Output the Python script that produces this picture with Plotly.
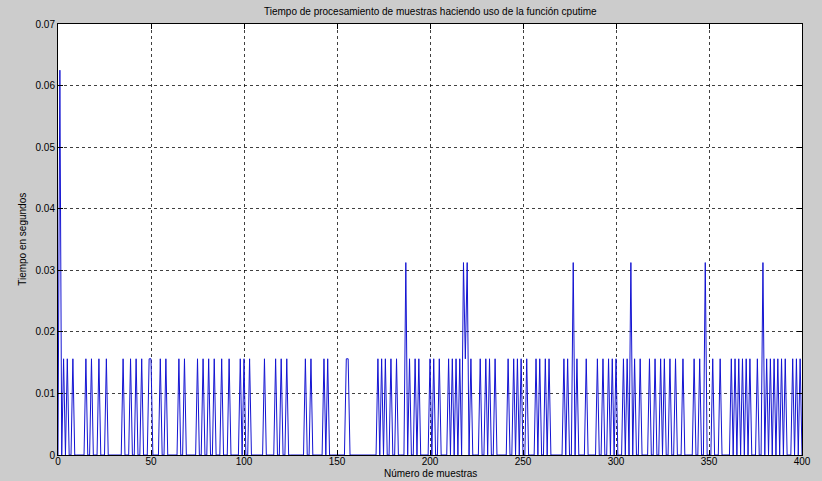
import numpy as np
import plotly.graph_objects as go

# Processing time per sample, measured with cputime (resolution 1/64 s)
n_samples = 401
tick_q = 0.015625

# Samples whose measured time was one clock tick (1/64 s)
single_tick_samples = [
    3, 5, 8, 15, 18, 22, 26, 35, 39, 42, 45, 49, 50, 55, 58, 65, 68, 75, 78,
    81, 84, 88, 92, 98, 100, 103, 111, 117, 120, 123, 133, 136, 143, 145, 155,
    156, 172, 174, 176, 179, 182, 189, 192, 194, 200, 202, 205, 210, 212, 214,
    216, 219, 222, 227, 230, 232, 235, 242, 245, 247, 249, 252, 257, 259, 262,
    264, 272, 274, 279, 284, 290, 293, 296, 298, 300, 304, 306, 310, 313, 318,
    321, 324, 326, 329, 332, 336, 342, 345, 352, 356, 362, 364, 366, 368, 370,
    372, 376, 381, 383, 385, 387, 389, 391, 395, 397, 399,
]
# Samples that took two clock ticks
double_tick_samples = [187, 218, 220, 277, 308, 348, 379]
# First sample (warm-up) took four clock ticks
first_peak_sample = 1
first_peak_value = 0.0625

x = np.arange(n_samples)
t = np.zeros(n_samples)
t[single_tick_samples] = tick_q
t[double_tick_samples] = 2 * tick_q
t[first_peak_sample] = first_peak_value

fig = go.Figure()
fig.add_trace(go.Scatter(
    x=x, y=t, mode="lines",
    line=dict(color="rgb(20,20,210)", width=1),
    hoverinfo="x+y", showlegend=False,
))

font = dict(family="Liberation Sans, Arial, sans-serif", size=10, color="black")
axis_common = dict(
    showline=True, linecolor="black", linewidth=1, mirror="ticks",
    ticks="inside", ticklen=5, tickcolor="black",
    showgrid=True, gridcolor="rgba(0,0,0,0.75)", gridwidth=1, griddash="dot",
    zeroline=False, tickfont=font,
)

fig.update_layout(
    width=822, height=481,
    margin=dict(l=58, r=20, t=24, b=26),
    paper_bgcolor="rgb(204,204,204)",
    plot_bgcolor="white",
    font=font,
    xaxis=dict(range=[0, 400], tickvals=list(range(0, 401, 50)),
               ticklabelstandoff=-3, **axis_common),
    yaxis=dict(range=[0, 0.07], tickvals=[0, 0.01, 0.02, 0.03, 0.04, 0.05, 0.06, 0.07],
               ticktext=["0", "0.01", "0.02", "0.03", "0.04", "0.05", "0.06", "0.07"],
               **axis_common),
    annotations=[
        dict(text="Tiempo de procesamiento de muestras haciendo uso de la función cputime",
             xref="paper", yref="paper", x=0.5, y=1.028, xanchor="center", yanchor="middle",
             showarrow=False, font=font),
        dict(text="Número de muestras",
             xref="paper", yref="paper", x=0.5, y=-0.0603, xanchor="center", yanchor="bottom",
             showarrow=False, font=font),
        dict(text="Tiempo en segundos",
             xref="paper", yref="paper", x=-0.048, y=0.5, xanchor="center", yanchor="middle",
             textangle=-90, showarrow=False, font=font),
    ],
)

fig.write_html("out.html")
